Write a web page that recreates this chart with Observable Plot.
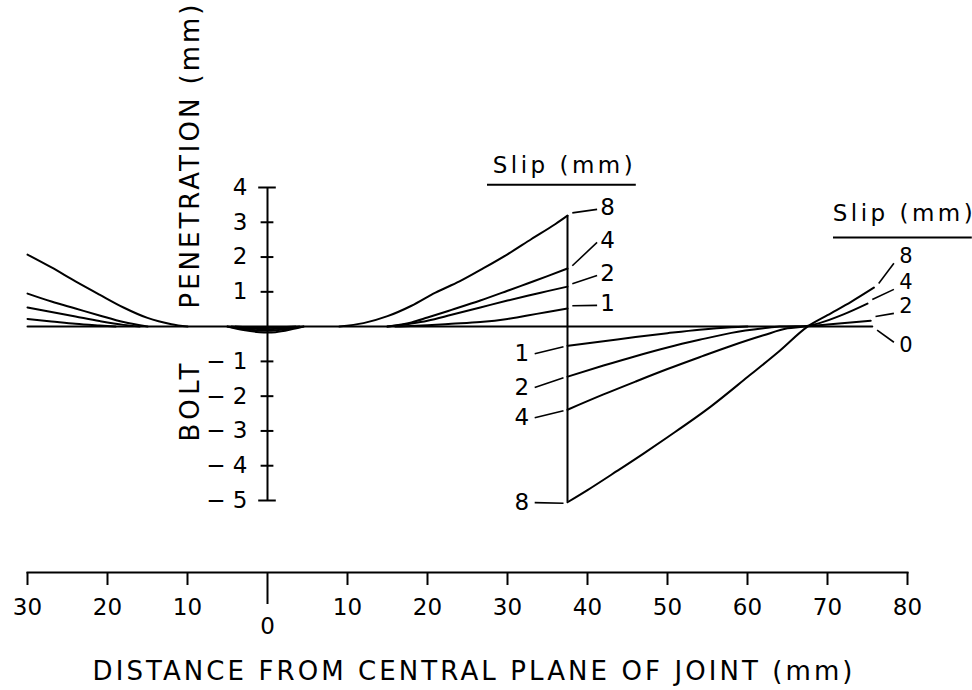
<!DOCTYPE html>
<html><head><meta charset="utf-8">
<script src="https://cdn.jsdelivr.net/npm/d3@7"></script>
<script src="https://cdn.jsdelivr.net/npm/@observablehq/plot@0.6"></script>
<style>
html,body{margin:0;padding:0;background:#fff;}
svg{display:block;}
</style></head><body><div id="chart"></div>
<script>
// ---- data ----
const slips = [1, 2, 4, 8];
const xTicks = [-30, -20, -10, 0, 10, 20, 30, 40, 50, 60, 70, 80];
const yTicks = [-5, -4, -3, -2, -1, 0, 1, 2, 3, 4];

// left of joint
const left8 = [[-30,2.07],[-27,1.7],[-24,1.3],[-21,0.92],[-18,0.55],[-15,0.25],[-12,0.07],[-10,0]];
const left4 = [[-30,0.95],[-27,0.72],[-24,0.52],[-21,0.32],[-18,0.13],[-15,0]];
const left2 = [[-30,0.55],[-27,0.42],[-24,0.29],[-21,0.16],[-18,0.05],[-16,0]];
const left1 = [[-30,0.22],[-27,0.15],[-24,0.08],[-21,0.03],[-19,0]];
// small dip at the joint plane
const dip8 = [[-5,0],[-3,-0.1],[-1,-0.16],[0,-0.17],[1,-0.16],[3,-0.08],[4.5,0]];
const dip4 = [[-5,0],[-3,-0.07],[0,-0.12],[3,-0.05],[4.5,0]];
const dip2 = [[-4.5,0],[-2.5,-0.05],[0,-0.08],[2.5,-0.03],[4,0]];
const dip1 = [[-4,0],[0,-0.04],[3.5,0]];
// upper branch up to 37.5 mm
const up8 = [[9,0],[12,0.1],[15,0.3],[18,0.6],[21,0.98],[24,1.3],[27,1.68],[30,2.08],[33,2.52],[36,2.95],[37.5,3.19]];
const up4 = [[15,0],[18,0.12],[20,0.26],[23,0.48],[26.6,0.75],[30,1.03],[32.5,1.24],[35,1.45],[37.5,1.67]];
const up2 = [[15,0],[18,0.09],[20,0.17],[23,0.34],[26.6,0.55],[30,0.75],[32.5,0.89],[35,1.02],[37.5,1.15]];
const up1 = [[16,0],[20,0.04],[23,0.08],[26.6,0.13],[30,0.22],[32.5,0.32],[35,0.42],[37.5,0.52]];
// lower branch from 37.5 mm
const low8 = [[37.5,-5.05],[40,-4.7],[43.7,-4.15],[47,-3.65],[50,-3.18],[55.4,-2.3],[60,-1.45],[64,-0.7],[67.5,0],[70,0.33],[73,0.72],[75.8,1.12]];
const low4 = [[37.5,-2.39],[42,-1.95],[46,-1.58],[50,-1.22],[54,-0.88],[58,-0.55],[62,-0.25],[65,-0.05],[67,0],[69,0.1],[72,0.35],[75,0.66]];
const low2 = [[37.5,-1.44],[42,-1.12],[46,-0.85],[50,-0.6],[54,-0.38],[58,-0.18],[62,-0.05],[64,0],[68,0.02],[70,0.06],[75.4,0.17]];
const low1 = [[37.5,-0.55],[42,-0.42],[46,-0.3],[50,-0.19],[54,-0.09],[58,-0.02],[60,0]];
const slip0 = [[-30,0],[75.6,0]];

// label values
const upLabelY = [0.66, 1.52, 2.47, 3.42];      // slips 1,2,4,8 (right of 37.5)
const lowLabelY = [-0.78, -1.75, -2.62, -5.06]; // slips 1,2,4,8 (left of 37.5)
const rightSlips = [0, 2, 4, 8];
const rightLabelY = [-0.55, 0.58, 1.27, 2.02];

// ---- build table ----
const rows = [];
function add(arr, slip, part) { arr.forEach(([x, y]) => rows.push({x, y, slip, key: part + slip})); }
[[left1,1],[left2,2],[left4,4],[left8,8]].forEach(([a,s]) => add(a, s, "left"));
[[dip1,1],[dip2,2],[dip4,4],[dip8,8]].forEach(([a,s]) => add(a, s, "dip"));
[[up1,1],[up2,2],[up4,4],[up8,8]].forEach(([a,s]) => add(a, s, "up"));
[[low1,1],[low2,2],[low4,4],[low8,8]].forEach(([a,s]) => add(a, s, "low"));
add(slip0, 0, "base");

const ups = [up1, up2, up4, up8];
const lows = [low1, low2, low4, low8];
const rights = [slip0, low2, low4, low8];
const jointX = up8[up8.length - 1][0];
const labelUpX = jointX + 5, labelLowX = jointX - 5.7, labelRightX = 79.8;

const upLabels = slips.map((s, i) => ({s, y: upLabelY[i], endY: ups[i][ups[i].length - 1][1]}));
const lowLabels = slips.map((s, i) => ({s, y: lowLabelY[i], endY: lows[i][0][1]}));
const rightLabels = rightSlips.map((s, i) => {
  const e = rights[i][rights[i].length - 1];
  return {s, y: rightLabelY[i], endX: e[0], endY: e[1]};
});

const mid = {textAnchor: "middle", lineAnchor: "middle"};
const chart = Plot.plot({
  width: 972, height: 690,
  marginLeft: 27, marginRight: 65, marginTop: 0, marginBottom: 118,
  x: {domain: [-30, 80]},
  y: {domain: [-5, 4], range: [500, 187], axis: null},
  style: {fontFamily: "DejaVu Sans", fontSize: "23px", background: "white", color: "black"},
  marks: [
    Plot.frame({anchor: "bottom", strokeWidth: 2}),
    Plot.axisX({ticks: xTicks.filter(d => d !== 0), tickSize: 13, tickPadding: 13, tickFormat: d => Math.abs(d), fontSize: 23, label: null, strokeWidth: 2}),
    Plot.axisX({ticks: [0], tickSize: 32, tickPadding: 13, tickFormat: d => String(d), fontSize: 23, label: null, strokeWidth: 2}),
    // y axis at x = 0
    Plot.ruleX([0], {y1: yTicks[0], y2: yTicks[yTicks.length - 1], strokeWidth: 2}),
    Plot.ruleY(yTicks.filter(d => d !== 0), {y: d => d, x1: d => (d === 4 || d === -5) ? -1.1 : -0.8, x2: d => (d === 4 || d === -5) ? 1.1 : 0.8, strokeWidth: 2}),
    Plot.text(yTicks.filter(d => d !== 0), {x: 0, y: d => d, text: d => d < 0 ? "\u2212 " + (-d) : String(d), textAnchor: "end", lineAnchor: "middle", dx: -20, fontSize: 23}),
    // curves
    Plot.line(rows, {x: "x", y: "y", z: "key", stroke: "black", strokeWidth: 2, curve: "monotone-x"}),
    Plot.ruleX([jointX], {y1: low8[0][1], y2: up8[up8.length - 1][1], strokeWidth: 2}),
    // labels right of joint (upper)
    Plot.link(upLabels, {x1: jointX + 0.6, y1: d => d.endY + 0.08, x2: labelUpX - 1.3, y2: d => d.y - 0.05, strokeWidth: 1.6}),
    Plot.text(upLabels, {x: labelUpX, y: "y", text: d => String(d.s), fontSize: 23, ...mid}),
    // labels left of joint (lower)
    Plot.link(lowLabels, {x1: jointX - 0.5, y1: d => d.endY - 0.03, x2: labelLowX + 1.6, y2: "y", strokeWidth: 1.6}),
    Plot.text(lowLabels, {x: labelLowX, y: "y", text: d => String(d.s), fontSize: 23, ...mid}),
    // labels at right end
    Plot.link(rightLabels, {x1: d => d.endX + 0.6, y1: d => d.endY + (d.s === 0 ? -0.1 : 0.12), x2: labelRightX - 1.5, y2: d => d.y + (d.s === 0 ? 0.1 : -0.2), strokeWidth: 1.6}),
    Plot.text(rightLabels, {x: labelRightX, y: "y", text: d => String(d.s), fontSize: 21, ...mid}),
    // legend headings
    Plot.text(["Slip (mm)"], {x: 36.9, y: 4.63, fontSize: 23, ...mid}),
    Plot.ruleY([4.08], {x1: 27.5, x2: 46.1, strokeWidth: 2}),
    Plot.text(["Slip (mm)"], {x: 79.4, y: 3.25, fontSize: 23, ...mid}),
    Plot.ruleY([2.56], {x1: 70.75, x2: 88.1, strokeWidth: 2}),
    // axis titles
    Plot.text(["DISTANCE FROM CENTRAL PLANE OF JOINT (mm)"], {frameAnchor: "bottom", dx: 5, dy: 99, fontSize: 26, ...mid}),
    Plot.text(["PENETRATION (mm)"], {frameAnchor: "top-left", dx: 163, dy: 156, rotate: -90, fontSize: 26, ...mid}),
    Plot.text(["BOLT"], {frameAnchor: "top-left", dx: 163, dy: 402, rotate: -90, fontSize: 26, ...mid})
  ]
});
document.getElementById("chart").appendChild(chart);

// stretch the hand-lettered titles to their drawn widths
const lengths = {"DISTANCE FROM CENTRAL PLANE OF JOINT (mm)": 760, "PENETRATION (mm)": 304, "BOLT": 78, "Slip (mm)": 140};
chart.querySelectorAll("text").forEach(t => {
  const L = lengths[t.textContent];
  if (L) { t.setAttribute("textLength", L); t.setAttribute("lengthAdjust", "spacing"); }
});
</script></body></html>
